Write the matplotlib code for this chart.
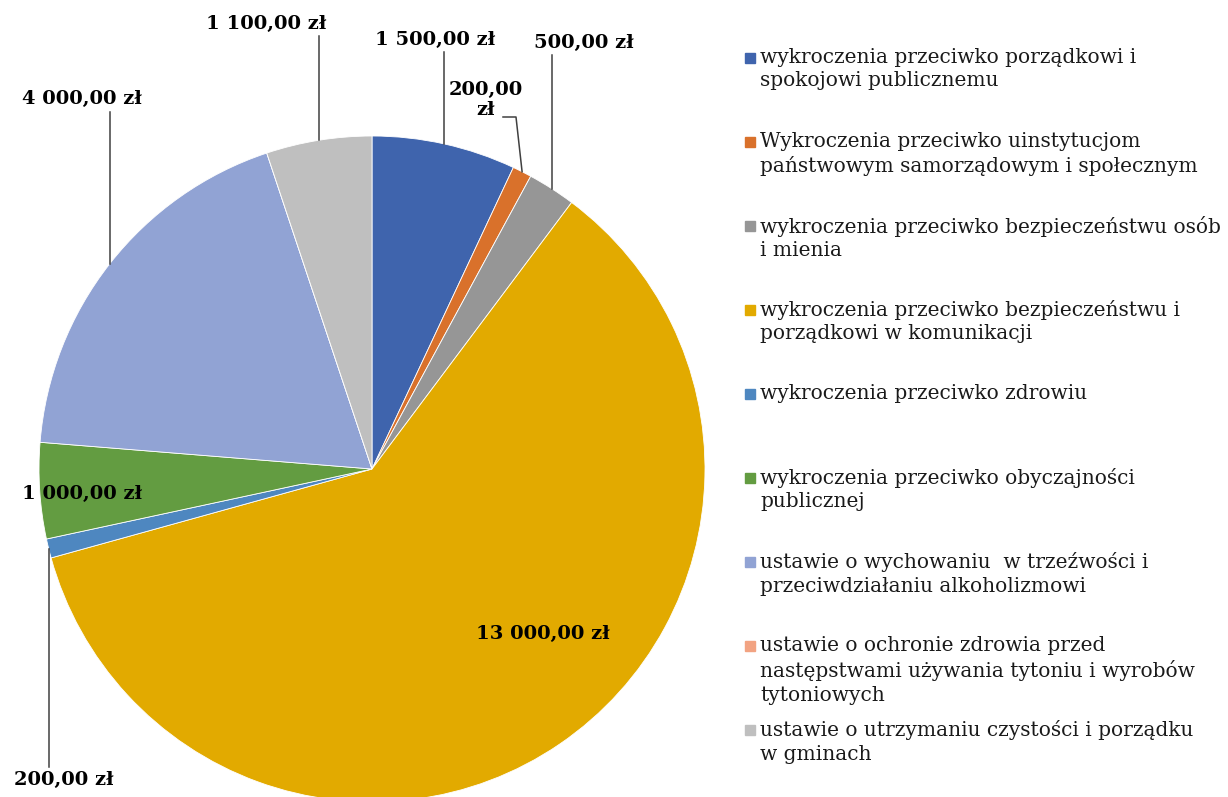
import numpy as np
import matplotlib.pyplot as plt
from matplotlib.patches import Rectangle

# ---------------------------------------------------------------- data
categories = [
    "wykroczenia przeciwko porządkowi i\nspokojowi publicznemu",
    "Wykroczenia przeciwko uinstytucjom\npaństwowym samorządowym i społecznym",
    "wykroczenia przeciwko bezpieczeństwu osób\ni mienia",
    "wykroczenia przeciwko bezpieczeństwu i\nporządkowi w komunikacji",
    "wykroczenia przeciwko zdrowiu",
    "wykroczenia przeciwko obyczajności\npublicznej",
    "ustawie o wychowaniu  w trzeźwości i\nprzeciwdziałaniu alkoholizmowi",
    "ustawie o ochronie zdrowia przed\nnastępstwami używania tytoniu i wyrobów\ntytoniowych",
    "ustawie o utrzymaniu czystości i porządku\nw gminach",
]
values = [1500, 200, 500, 13000, 200, 1000, 4000, 0, 1100]
labels = ["1 500,00 zł", "200,00\nzł", "500,00 zł", "13 000,00 zł", "200,00 zł",
          "1 000,00 zł", "4 000,00 zł", None, "1 100,00 zł"]
colors = ["#3F64AD", "#D9712B", "#969696", "#E2AA00", "#4E87C0",
          "#639C41", "#91A3D4", "#F2A382", "#BFBFBF"]

# ---------------------------------------------------------------- figure
W, H = 1228, 797
CX, CY, R = 372, 469, 333
fig = plt.figure(figsize=(W / 100, H / 100), dpi=100)
ax = fig.add_axes([0, 0, 1, 1])


def px(x, y):
    # pixel position -> data coords (pie radius = 1)
    return (x - CX) / R, (CY - y) / R


wedges, _ = ax.pie(values, colors=colors, startangle=90, counterclock=False,
                   radius=1, wedgeprops=dict(edgecolor="white", linewidth=0.6))
for w in wedges:
    w.set_clip_on(False)
ax.set_aspect("auto")
ax.set_xlim(-CX / R, (W - CX) / R)
ax.set_ylim((CY - H) / R, CY / R)
ax.axis("off")

lab_font = dict(family="DejaVu Serif", fontweight="bold", fontsize=14,
                color="black", ha="center", va="center")

# label centre (px) and where the leader line goes (px), None = no leader
label_pos = {
    0: ((435, 40), [(None, 52)]),
    1: ((486, 100), [(516, 117), (503, 117)]),
    2: ((584, 43), [(None, 55)]),
    3: ((543, 634), None),
    4: ((64, 780), [(None, 767)]),
    5: ((82, 494), None),
    6: ((82, 99), [(None, 112)]),
    8: ((266, 24), [(None, 36)]),
}

for i, w in enumerate(wedges):
    if labels[i] is None:
        continue
    (tx, ty), leader = label_pos[i]
    ax.text(*px(tx, ty), labels[i], linespacing=1.15, **lab_font)
    if leader:
        mid = np.deg2rad((w.theta1 + w.theta2) / 2)
        ax0, ay0 = np.cos(mid), np.sin(mid)
        xs, ys = [ax0], [ay0]
        for lx, ly in leader:
            x, y = px(lx if lx is not None else 0, ly)
            xs.append(ax0 if lx is None else x)
            ys.append(y)
        ax.plot(xs, ys, color="#404040", lw=1.1, clip_on=False)

# ---------------------------------------------------------------- legend
leg_y0, leg_step = 58, 84
for i, (cat, col) in enumerate(zip(categories, colors)):
    yc = leg_y0 + i * leg_step
    fig.patches.append(Rectangle((745 / W, 1 - (yc + 5) / H), 10 / W, 10 / H,
                                 transform=fig.transFigure, color=col))
    fig.text(760 / W, 1 - (yc - 10) / H, cat, family="DejaVu Serif",
             fontsize=14.5, color="#1a1a1a", ha="left", va="top", linespacing=1.3)

fig.savefig("out.png", dpi=100)
